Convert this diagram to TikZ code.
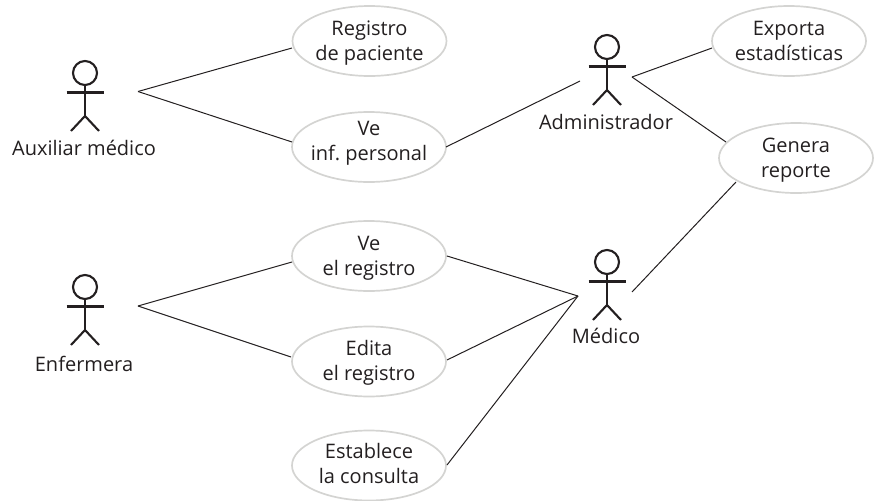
\documentclass[tikz,border=0pt]{standalone}
\usepackage{fontspec}
\setmainfont{Open Sans}
\usetikzlibrary{shapes.geometric}
\definecolor{ink}{HTML}{231F20}
\definecolor{ringc}{HTML}{D4D4D2}
\frenchspacing
\tikzset{x=1pt,y=-1pt,
 usecase/.style={ellipse,draw=ringc,line width=1.7pt,minimum width=154pt,minimum height=70pt,inner xsep=-25pt,inner ysep=-14pt,align=center,font=\fontsize{20}{25}\selectfont,text=ink,text height=38pt,text depth=0pt},
 lowtext/.style={text height=35pt},
 hightext/.style={text height=26pt},
 actorlabel/.style={inner sep=0pt,anchor=base,font=\fontsize{20}{24}\selectfont,text=ink},
 link/.style={draw=ink,line width=1pt},
 stick/.style={draw=ink,line width=2.1pt}}
\newcommand{\stickman}[2]{%
 \draw[stick] (#1,#2) circle (12);
 \draw[stick] (#1-18.5,#2+19.5) -- (#1+18.5,#2+19.5);
 \draw[stick] (#1,#2+12) -- (#1,#2+43);
 \draw[stick] (#1-14,#2+58) -- (#1,#2+43) -- (#1+14,#2+58);}
\begin{document}
\begin{tikzpicture}
\useasboundingbox (0,0) rectangle (879,501);
\node[usecase] (reg) at (369.5,41) {Registro\\de paciente};
\node[usecase,hightext] (inf) at (369,147) {Ve\\inf. personal};
\node[usecase] (ver) at (369,256) {Ve\\el registro};
\node[usecase] (edi) at (369,361.5) {Edita\\el registro};
\node[usecase,lowtext] (est) at (369,465.5) {Establece\\la consulta};
\node[usecase] (exp) at (789,41) {Exporta\\estadísticas};
\node[usecase] (gen) at (796,158) {Genera\\reporte};
\stickman{85}{73}
\stickman{607}{47}
\stickman{85}{287}
\stickman{607}{262}
\node[actorlabel] (la) at (84,155) {Auxiliar médico};
\node[actorlabel] (lb) at (606,129) {Administrador};
\node[actorlabel] (lc) at (84,371) {Enfermera};
\node[actorlabel] (ld) at (606,343) {Médico};
\coordinate (a1) at (138,91.5);
\coordinate (b1) at (580,81);
\coordinate (b2) at (632,77);
\coordinate (c1) at (138,306);
\coordinate (d1) at (578,296);
\coordinate (d2) at (632,292);
\draw[link] (a1) -- (292,48);
\draw[link] (a1) -- (292,142);
\draw[link] (446,147) -- (b1);
\draw[link] (b2) -- (712,48);
\draw[link] (b2) -- (726,142);
\draw[link] (d2) -- (736,182);
\draw[link] (c1) -- (292,262);
\draw[link] (c1) -- (291,357);
\draw[link] (447,256) -- (d1);
\draw[link] (447,360) -- (d1);
\draw[link] (447,465) -- (d1);
\end{tikzpicture}
\end{document}
